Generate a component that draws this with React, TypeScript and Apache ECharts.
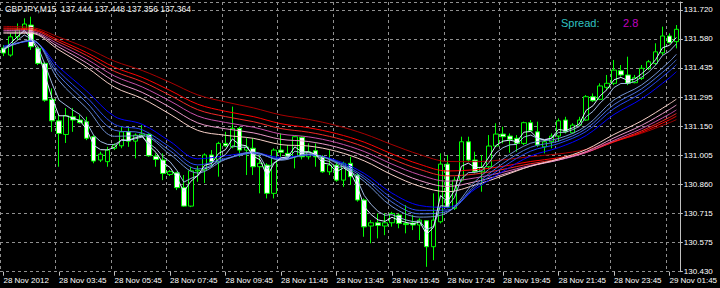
import React, { useEffect, useRef } from 'react';
import * as echarts from 'echarts';

const FONT = "'Liberation Sans', Arial, sans-serif";

const xTickLabels = ['28 Nov 2012', '28 Nov 03:45', '28 Nov 05:45', '28 Nov 07:45', '28 Nov 09:45', '28 Nov 11:45', '28 Nov 13:45', '28 Nov 15:45', '28 Nov 17:45', '28 Nov 19:45', '28 Nov 21:45', '28 Nov 23:45', '29 Nov 01:45'];
const yTickLabels = ['130.430', '130.575', '130.715', '130.860', '131.005', '131.150', '131.295', '131.435', '131.580', '131.720'];

const openP = [131.532, 131.497, 131.587, 131.629, 131.645, 131.530, 131.456, 131.279, 131.173, 131.106, 131.193, 131.177, 131.169, 131.095, 130.980, 130.972, 131.038, 131.050, 131.119, 131.073, 131.098, 131.106, 130.999, 130.980, 130.909, 130.917, 130.844, 130.753, 130.926, 130.931, 131.005, 130.972, 131.062, 131.045, 131.136, 131.029, 131.038, 130.947, 130.955, 130.816, 131.029, 131.013, 130.996, 131.092, 130.996, 131.026, 130.996, 130.922, 130.955, 130.881, 130.964, 130.906, 130.783, 130.655, 130.671, 130.655, 130.671, 130.709, 130.668, 130.670, 130.660, 130.681, 130.553, 130.676, 130.960, 130.742, 130.881, 131.070, 130.980, 130.922, 130.947, 131.049, 131.108, 131.098, 131.087, 131.062, 131.164, 131.119, 131.045, 131.070, 131.098, 131.177, 131.114, 131.152, 131.177, 131.292, 131.279, 131.338, 131.358, 131.420, 131.399, 131.361, 131.382, 131.432, 131.456, 131.508, 131.591, 131.563];
const highP = [131.546, 131.604, 131.653, 131.678, 131.686, 131.538, 131.464, 131.333, 131.202, 131.236, 131.236, 131.202, 131.193, 131.103, 131.021, 131.045, 131.062, 131.144, 131.144, 131.111, 131.152, 131.111, 131.013, 131.013, 130.931, 130.922, 130.906, 130.947, 130.950, 131.013, 131.029, 131.070, 131.119, 131.243, 131.144, 131.088, 131.087, 131.005, 130.964, 131.038, 131.111, 131.054, 131.098, 131.098, 131.062, 131.062, 131.005, 131.029, 130.972, 130.972, 130.996, 130.914, 130.791, 130.684, 130.717, 130.719, 130.725, 130.717, 130.758, 130.709, 130.693, 130.684, 130.816, 131.013, 131.005, 130.898, 131.095, 131.095, 131.021, 131.005, 131.103, 131.161, 131.144, 131.111, 131.103, 131.169, 131.177, 131.169, 131.078, 131.111, 131.185, 131.193, 131.161, 131.193, 131.300, 131.308, 131.358, 131.399, 131.473, 131.448, 131.489, 131.399, 131.448, 131.473, 131.555, 131.637, 131.604, 131.645];
const lowP = [131.492, 131.489, 131.571, 131.620, 131.522, 131.448, 131.267, 131.119, 130.947, 131.064, 131.119, 131.160, 131.078, 130.964, 130.970, 130.947, 131.029, 131.038, 131.045, 130.988, 131.093, 130.996, 130.947, 130.881, 130.901, 130.832, 130.750, 130.748, 130.873, 130.867, 130.947, 130.898, 131.045, 131.038, 130.996, 130.906, 130.906, 130.816, 130.791, 130.791, 130.996, 130.988, 130.939, 130.983, 130.983, 130.947, 130.917, 130.906, 130.873, 130.848, 130.857, 130.775, 130.602, 130.570, 130.594, 130.610, 130.652, 130.644, 130.619, 130.635, 130.586, 130.454, 130.487, 130.668, 130.742, 130.734, 130.873, 130.972, 130.914, 130.824, 130.939, 131.045, 131.062, 131.016, 131.021, 131.054, 131.119, 131.045, 131.013, 131.038, 131.070, 131.111, 131.108, 131.147, 131.173, 131.267, 131.275, 131.325, 131.349, 131.390, 131.349, 131.358, 131.374, 131.423, 131.448, 131.497, 131.555, 131.530];
const closeP = [131.507, 131.587, 131.620, 131.650, 131.538, 131.456, 131.275, 131.173, 131.111, 131.198, 131.177, 131.164, 131.087, 130.975, 131.009, 131.029, 131.054, 131.119, 131.073, 131.103, 131.108, 131.001, 130.983, 130.914, 130.923, 130.844, 130.753, 130.927, 130.931, 131.005, 130.972, 131.062, 131.050, 131.136, 131.029, 131.044, 130.947, 130.964, 130.816, 131.029, 131.018, 130.999, 131.095, 130.996, 131.021, 130.996, 130.922, 130.955, 130.881, 130.964, 130.898, 130.783, 130.651, 130.671, 130.658, 130.671, 130.717, 130.668, 130.662, 130.660, 130.684, 130.553, 130.684, 130.960, 130.747, 130.881, 131.070, 130.980, 130.922, 130.944, 131.049, 131.108, 131.095, 131.082, 131.062, 131.164, 131.124, 131.054, 131.070, 131.098, 131.173, 131.119, 131.152, 131.177, 131.292, 131.272, 131.345, 131.358, 131.423, 131.399, 131.358, 131.385, 131.432, 131.464, 131.513, 131.591, 131.558, 131.624];

// moving-average lines
const ma3 = [131.522, 131.554, 131.587, 131.618, 131.578, 131.517, 131.396, 131.285, 131.198, 131.198, 131.187, 131.175, 131.131, 131.053, 131.031, 131.030, 131.042, 131.080, 131.077, 131.090, 131.099, 131.050, 131.017, 130.966, 130.944, 130.894, 130.824, 130.875, 130.903, 130.954, 130.963, 131.012, 131.031, 131.084, 131.056, 131.050, 130.999, 130.981, 130.899, 130.964, 130.991, 130.995, 131.045, 131.021, 131.021, 131.008, 130.965, 130.960, 130.921, 130.942, 130.920, 130.851, 130.751, 130.711, 130.685, 130.678, 130.698, 130.683, 130.673, 130.666, 130.675, 130.614, 130.649, 130.805, 130.776, 130.829, 130.949, 130.965, 130.943, 130.944, 130.996, 131.052, 131.073, 131.078, 131.070, 131.117, 131.121, 131.087, 131.078, 131.088, 131.131, 131.125, 131.138, 131.158, 131.225, 131.248, 131.296, 131.327, 131.375, 131.387, 131.372, 131.379, 131.405, 131.435, 131.474, 131.533, 131.545, 131.584];
const ma5 = [131.522, 131.543, 131.569, 131.596, 131.577, 131.537, 131.449, 131.357, 131.275, 131.250, 131.226, 131.205, 131.166, 131.102, 131.071, 131.057, 131.056, 131.077, 131.076, 131.085, 131.093, 131.062, 131.036, 130.996, 130.972, 130.929, 130.871, 130.889, 130.903, 130.937, 130.948, 130.986, 131.007, 131.050, 131.043, 131.043, 131.011, 130.996, 130.936, 130.967, 130.984, 130.989, 131.024, 131.015, 131.017, 131.010, 130.981, 130.973, 130.942, 130.949, 130.932, 130.882, 130.806, 130.761, 130.727, 130.708, 130.711, 130.697, 130.685, 130.677, 130.679, 130.637, 130.653, 130.755, 130.752, 130.795, 130.887, 130.918, 130.919, 130.928, 130.968, 131.015, 131.041, 131.055, 131.057, 131.093, 131.103, 131.087, 131.081, 131.087, 131.116, 131.117, 131.129, 131.145, 131.194, 131.220, 131.261, 131.293, 131.337, 131.357, 131.357, 131.367, 131.388, 131.413, 131.447, 131.495, 131.516, 131.552];
const sampleBars = [0, 4, 8, 12, 16, 20, 24, 28, 32, 36, 40, 44, 48, 52, 56, 60, 64, 68, 72, 76, 80, 84, 88, 92, 96, 97];
const ma8 = [131.527, 131.572, 131.371, 131.235, 131.097, 131.100, 131.008, 130.916, 130.983, 131.019, 130.979, 131.010, 130.965, 130.875, 130.751, 130.699, 130.722, 130.875, 130.985, 131.063, 131.086, 131.148, 131.276, 131.350, 131.465, 131.501];
const ma10 = [131.532, 131.569, 131.395, 131.263, 131.127, 131.113, 131.026, 130.936, 130.984, 131.014, 130.982, 131.007, 130.970, 130.889, 130.773, 130.715, 130.727, 130.857, 130.963, 131.043, 131.073, 131.135, 131.253, 131.331, 131.441, 131.474];
const ma12 = [131.537, 131.567, 131.415, 131.289, 131.156, 131.129, 131.044, 130.956, 130.988, 131.013, 130.985, 131.006, 130.973, 130.900, 130.793, 130.732, 130.734, 130.846, 130.945, 131.024, 131.061, 131.121, 131.233, 131.311, 131.418, 131.450];
const ma15 = [131.541, 131.565, 131.437, 131.320, 131.195, 131.156, 131.072, 130.986, 131.001, 131.017, 130.992, 131.006, 130.978, 130.914, 130.817, 130.756, 130.747, 130.837, 130.924, 131.000, 131.041, 131.101, 131.204, 131.282, 131.385, 131.415];
const ma30 = [131.605, 131.604, 131.522, 131.437, 131.339, 131.283, 131.206, 131.126, 131.102, 131.087, 131.056, 131.049, 131.023, 130.976, 130.907, 130.851, 130.824, 130.857, 130.902, 130.950, 130.985, 131.032, 131.106, 131.173, 131.257, 131.280];
const ma35 = [131.610, 131.608, 131.536, 131.458, 131.368, 131.313, 131.240, 131.163, 131.134, 131.114, 131.082, 131.071, 131.044, 130.999, 130.934, 130.879, 130.850, 130.873, 130.909, 130.950, 130.980, 131.022, 131.089, 131.151, 131.229, 131.251];
const ma40 = [131.618, 131.614, 131.549, 131.477, 131.394, 131.340, 131.271, 131.197, 131.165, 131.142, 131.108, 131.094, 131.066, 131.022, 130.960, 130.907, 130.876, 130.892, 130.920, 130.954, 130.980, 131.017, 131.077, 131.135, 131.206, 131.227];
const ma45 = [131.625, 131.621, 131.561, 131.495, 131.417, 131.366, 131.299, 131.228, 131.194, 131.169, 131.135, 131.117, 131.088, 131.045, 130.985, 130.934, 130.902, 130.911, 130.934, 130.962, 130.984, 131.017, 131.071, 131.124, 131.190, 131.209];
const ma50 = [131.630, 131.626, 131.571, 131.509, 131.437, 131.387, 131.323, 131.255, 131.220, 131.194, 131.159, 131.139, 131.110, 131.068, 131.010, 130.959, 130.926, 130.932, 130.949, 130.973, 130.991, 131.020, 131.069, 131.117, 131.178, 131.196];
const ma60 = [131.638, 131.633, 131.585, 131.532, 131.467, 131.421, 131.363, 131.301, 131.266, 131.237, 131.202, 131.180, 131.150, 131.109, 131.056, 131.007, 130.973, 130.972, 130.981, 130.997, 131.010, 131.032, 131.072, 131.112, 131.164, 131.179];

const PRICE_MIN = 130.43;
const PRICE_STEP = 0.1433333;
const PRICE_MAX = 131.7584;

export default function App() {
  const ref = useRef<HTMLDivElement>(null);
  useEffect(() => {
    if (!ref.current) return;
    const chart = echarts.init(ref.current, null, { renderer: 'svg' });
    const categories = openP.map((_, i) => {
      const m = 105 + 15 * i;
      const day = m >= 1440 ? 29 : 28;
      const mm = m % 1440;
      const hh = String(Math.floor(mm / 60)).padStart(2, '0');
      const mi = String(mm % 60).padStart(2, '0');
      return `${day} Nov ${hh}:${mi}`;
    });
    const candles = openP.map((o, i) => [o, closeP[i], lowP[i], highP[i]]);
    const dense = (arr: number[]) => arr.map((v, i) => [i, v]);
    const sparse = (arr: number[]) => arr.map((v, i) => [sampleBars[i], v]);
    const lineSeries = (name: string, data: any[], color: string, smooth: boolean) => ({
      name,
      type: 'line',
      xAxisIndex: 0,
      yAxisIndex: 0,
      data,
      showSymbol: false,
      symbol: 'none',
      smooth: smooth ? 0.35 : false,
      lineStyle: { width: 1, color },
      z: 3,
      silent: true,
    });
    const majorLabel = (i: number) => i % 8 === 0;
    const gridDash = { color: '#909090', type: [3, 3] as any, width: 1 };
    const option: any = {
      animation: false,
      backgroundColor: '#000000',
      textStyle: { fontFamily: FONT },
      grid: { left: 0, right: 32, top: 2, bottom: 16.3, containLabel: false },
      xAxis: [
        {
          type: 'category',
          data: categories,
          boundaryGap: true,
          axisLine: { show: false },
          axisTick: { show: true, alignWithLabel: true, interval: majorLabel, length: 4, lineStyle: { color: '#c0c0c0' } },
          axisLabel: {
            interval: majorLabel,
            align: 'left',
            color: '#ffffff',
            fontSize: 8,
            fontFamily: FONT,
            margin: 5,
            formatter: (_v: string, i: number) => (i % 8 === 0 ? xTickLabels[i / 8] : ''),
          },
          splitLine: { show: false },
        },
        {
          type: 'value',
          position: 'bottom',
          min: -4.5,
          max: 93.5,
          interval: 8,
          axisLine: { show: false },
          axisTick: { show: false },
          axisLabel: { show: false },
          splitLine: { show: true, lineStyle: gridDash },
        },
      ],
      yAxis: [
        {
          type: 'value',
          position: 'right',
          min: PRICE_MIN,
          max: PRICE_MAX,
          axisLine: { show: false },
          axisTick: { show: false },
          axisLabel: { show: false },
          splitLine: { show: false },
        },
        {
          type: 'value',
          position: 'right',
          min: 0,
          max: (PRICE_MAX - PRICE_MIN) / PRICE_STEP,
          interval: 1,
          axisLine: { show: true, lineStyle: { color: '#c0c0c0' } },
          axisTick: { show: true, length: 3, lineStyle: { color: '#c0c0c0' } },
          axisLabel: {
            color: '#ffffff',
            fontSize: 8,
            fontFamily: FONT,
            margin: 4,
            formatter: (v: number) => {
              const r = Math.round(v);
              return Math.abs(v - r) < 1e-6 && yTickLabels[r] ? yTickLabels[r] : '';
            },
          },
          splitLine: { show: true, lineStyle: gridDash },
        },
      ],
      series: [
        {
          type: 'candlestick',
          xAxisIndex: 0,
          yAxisIndex: 0,
          data: candles,
          barWidth: 5,
          z: 2,
          silent: true,
          itemStyle: {
            color: '#000000',
            color0: '#ffffff',
            borderColor: '#00ff00',
            borderColor0: '#00ff00',
            borderWidth: 1,
          },
        },
        lineSeries('EMA60', sparse(ma60), '#a80000', true),
        lineSeries('EMA50', sparse(ma50), '#ff0000', true),
        lineSeries('EMA45', sparse(ma45), '#f02828', true),
        lineSeries('EMA40', sparse(ma40), '#c850a8', true),
        lineSeries('EMA35', sparse(ma35), '#e898c8', true),
        lineSeries('EMA30', sparse(ma30), '#f8d0c8', true),
        lineSeries('EMA15', sparse(ma15), '#0000ff', true),
        lineSeries('EMA12', sparse(ma12), '#2848f0', true),
        lineSeries('EMA10', sparse(ma10), '#4a70e0', true),
        lineSeries('EMA8', sparse(ma8), '#7090d0', true),
        lineSeries('EMA5', dense(ma5), '#a0b8e0', false),
        lineSeries('EMA3', dense(ma3), '#d8e8ff', false),
      ],
      graphic: [
        {
          type: 'text',
          x: 5,
          y: 4,
          z: 10,
          style: { text: 'GBPJPY,M15  137.444 137.448 137.356 137.364', fill: '#f0f0f0', font: `8.5px ${FONT}` },
        },
        {
          type: 'text',
          x: 561,
          y: 17,
          z: 10,
          style: { text: 'Spread:', fill: '#30c0c0', font: `11px ${FONT}` },
        },
        {
          type: 'text',
          x: 623,
          y: 17,
          z: 10,
          style: { text: '2.8', fill: '#c000c0', font: `11px ${FONT}` },
        },
      ],
    };
    chart.setOption(option);
    return () => chart.dispose();
  }, []);
  return <div ref={ref} style={{ position: 'absolute', left: 0, top: 0, width: 720, height: 288 }} />;
}
